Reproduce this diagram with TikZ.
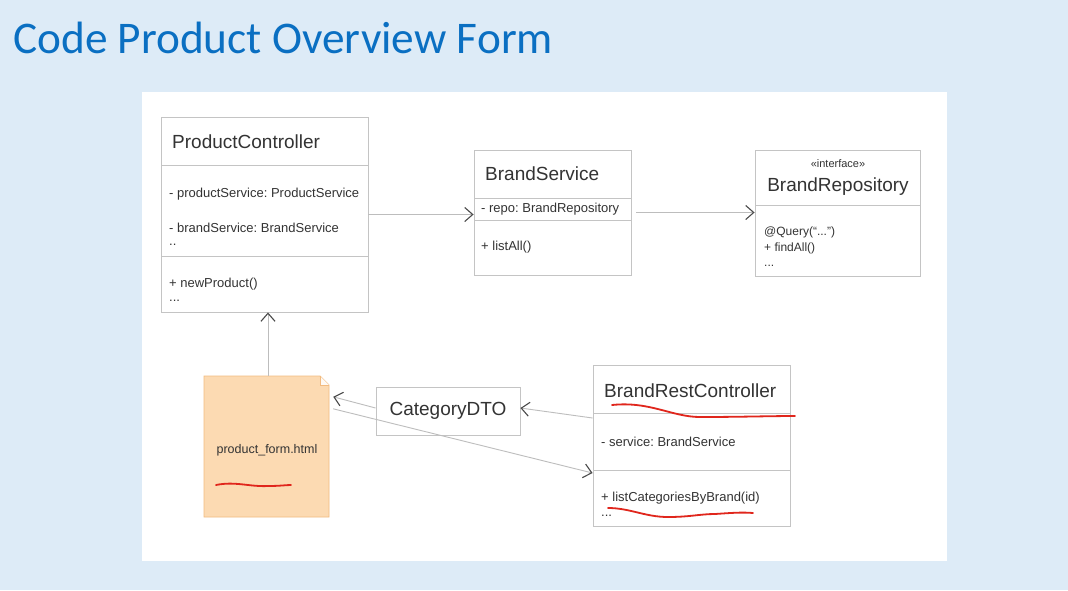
\documentclass[tikz,border=0pt]{standalone}
\usepackage{fontspec}
\setmainfont{Liberation Sans}
\newfontfamily\titlefont{Carlito}
\usetikzlibrary{arrows.meta,calc}
\definecolor{bgblue}{HTML}{DDEBF7}
\definecolor{titleblue}{HTML}{0A6FC2}
\definecolor{boxgray}{HTML}{C4C4C4}
\definecolor{linegray}{HTML}{BDBDBD}
\definecolor{tipgray}{HTML}{4A4A4A}
\definecolor{txt}{HTML}{333333}
\definecolor{notefill}{HTML}{FCDAB2}
\definecolor{noteline}{HTML}{F2BB80}
\definecolor{scribble}{HTML}{E0261C}
\tikzset{
  cls/.style={draw=boxgray, fill=white, line width=0.9pt, inner sep=0pt},
  sep/.style={draw=boxgray, line width=0.9pt},
  bigtxt/.style={text=txt, inner sep=0pt, font=\fontsize{19}{22}\selectfont},
  smalltxt/.style={text=txt, inner sep=0pt, anchor=west, font=\fontsize{13}{15}\selectfont},
  tinytxt/.style={text=txt, inner sep=0pt, anchor=west, font=\fontsize{12}{14}\selectfont},
  conn/.style={draw=linegray, line width=0.9pt, -{Straight Barb[length=8pt,width=14pt,line width=1.1pt,color=tipgray]}},
  red/.style={draw=scribble, line width=1.8pt, line cap=round}
}
\frenchspacing
\begin{document}
\begin{tikzpicture}[x=1pt,y=-1pt]
\useasboundingbox (0,0) rectangle (1068,590);
\fill[bgblue] (0,0) rectangle (1068,590);
\node[anchor=base west, inner sep=0pt, text=titleblue, font=\titlefont\fontsize{45.3}{50}\selectfont] (title) at (13,53) {Code Product Overview Form};
\fill[white] (142,92) rectangle (947,561);

% ProductController
\node[cls, minimum width=207pt, minimum height=195pt] (pc) at (264.5,214.5) {};
\draw[sep] (161,165) -- (368,165);
\draw[sep] (161,256) -- (368,256);
\node[bigtxt, anchor=west] (pct) at (172,142) {ProductController};
\node[smalltxt] (pc1) at (169,194) {- productService: ProductService};
\node[smalltxt] (pc2) at (169,228) {- brandService: BrandService};
\node[smalltxt] (pc3) at (169,245) {..};
\node[smalltxt] (pc4) at (169,284) {+ newProduct()};
\node[smalltxt] (pc5) at (169,301) {...};

% BrandService
\node[cls, minimum width=157pt, minimum height=125pt] (bs) at (552.5,212.5) {};
\draw[sep] (474,198) -- (631,198);
\draw[sep] (474,220) -- (631,220);
\node[bigtxt, anchor=west] (bst) at (485,174) {BrandService};
\node[smalltxt] (bs1) at (481,209) {- repo: BrandRepository};
\node[smalltxt] (bs2) at (481,247) {+ listAll()};

% BrandRepository
\node[cls, minimum width=165pt, minimum height=126pt] (br) at (837.5,213) {};
\draw[sep] (755,205) -- (920,205);
\node[text=txt, inner sep=0pt, font=\fontsize{11}{13}\selectfont] (brs) at (838,164) {«interface»};
\node[bigtxt] (brt) at (838,187) {BrandRepository};
\node[tinytxt] (br1) at (764,232) {@Query(“...”)};
\node[tinytxt] (br2) at (764,248) {+ findAll()};
\node[tinytxt] (br3) at (764,266) {...};

% product_form.html (note)
\node[inner sep=0pt, minimum width=125pt, minimum height=141pt] (pf) at (266.5,446.5) {};
\fill[notefill] (204,376) -- (320,376) -- (329,385) -- (329,517) -- (204,517) -- cycle;
\draw[noteline, line width=0.9pt] (204,376) -- (320,376) -- (329,385) -- (329,517) -- (204,517) -- cycle;
\fill[white!85!notefill] (320,376) -- (320,385) -- (329,385) -- cycle;
\draw[noteline, line width=0.7pt] (320,376) -- (320,385) -- (329,385);
\node[text=txt, inner sep=0pt, font=\fontsize{12.5}{14}\selectfont] (pft) at (267,450) {product\_form.html};

% CategoryDTO
\node[cls, minimum width=144pt, minimum height=48pt] (dto) at (448,411) {};
\node[bigtxt] (dtot) at (448,411) {CategoryDTO};

% BrandRestController
\node[cls, minimum width=197pt, minimum height=161pt] (brc) at (691.5,445.5) {};
\draw[sep] (593,413) -- (790,413);
\draw[sep] (593,470) -- (790,470);
\node[bigtxt, anchor=west] (brct) at (604,391) {BrandRestController};
\node[smalltxt] (brc1) at (601,442) {- service: BrandService};
\node[smalltxt] (brc2) at (601,498) {+ listCategoriesByBrand(id)};
\node[smalltxt] (brc3) at (601,516) {...};

% connectors
\coordinate (pfin) at ([xshift=4pt,yshift=-21pt]pf.north east);
\coordinate (pfout) at ([xshift=4pt,yshift=-33pt]pf.north east);
\coordinate (bsout) at ([xshift=5pt]bs.east);
\draw[conn] (pc.east) -- (bs.west |- pc.east);
\draw[conn] (bsout) -- (br.west |- bsout);
\draw[conn] (pf.north -| 268,0) -- (pc.south -| 268,0);
\draw[conn] ([yshift=27.5pt]brc.west) -- ([yshift=3pt]dto.east);
\draw[conn] ([yshift=3pt]dto.west) -- (pfin);
\draw[conn] (pfout) -- ([yshift=-27.5pt]brc.west);

% red hand-drawn underlines
\draw[red] (216,485) .. controls (235,481) and (250,487) .. (268,486) .. controls (280,486) and (286,485) .. (291,485);
\draw[red] (612,405) .. controls (650,401) and (672,417) .. (700,417) .. controls (740,417) and (770,416) .. (795,416);
\draw[red] (608,508) .. controls (630,508) and (645,517) .. (668,517) .. controls (690,517) and (700,514) .. (715,514) .. controls (730,513) and (742,512) .. (753,513);
\end{tikzpicture}
\end{document}
